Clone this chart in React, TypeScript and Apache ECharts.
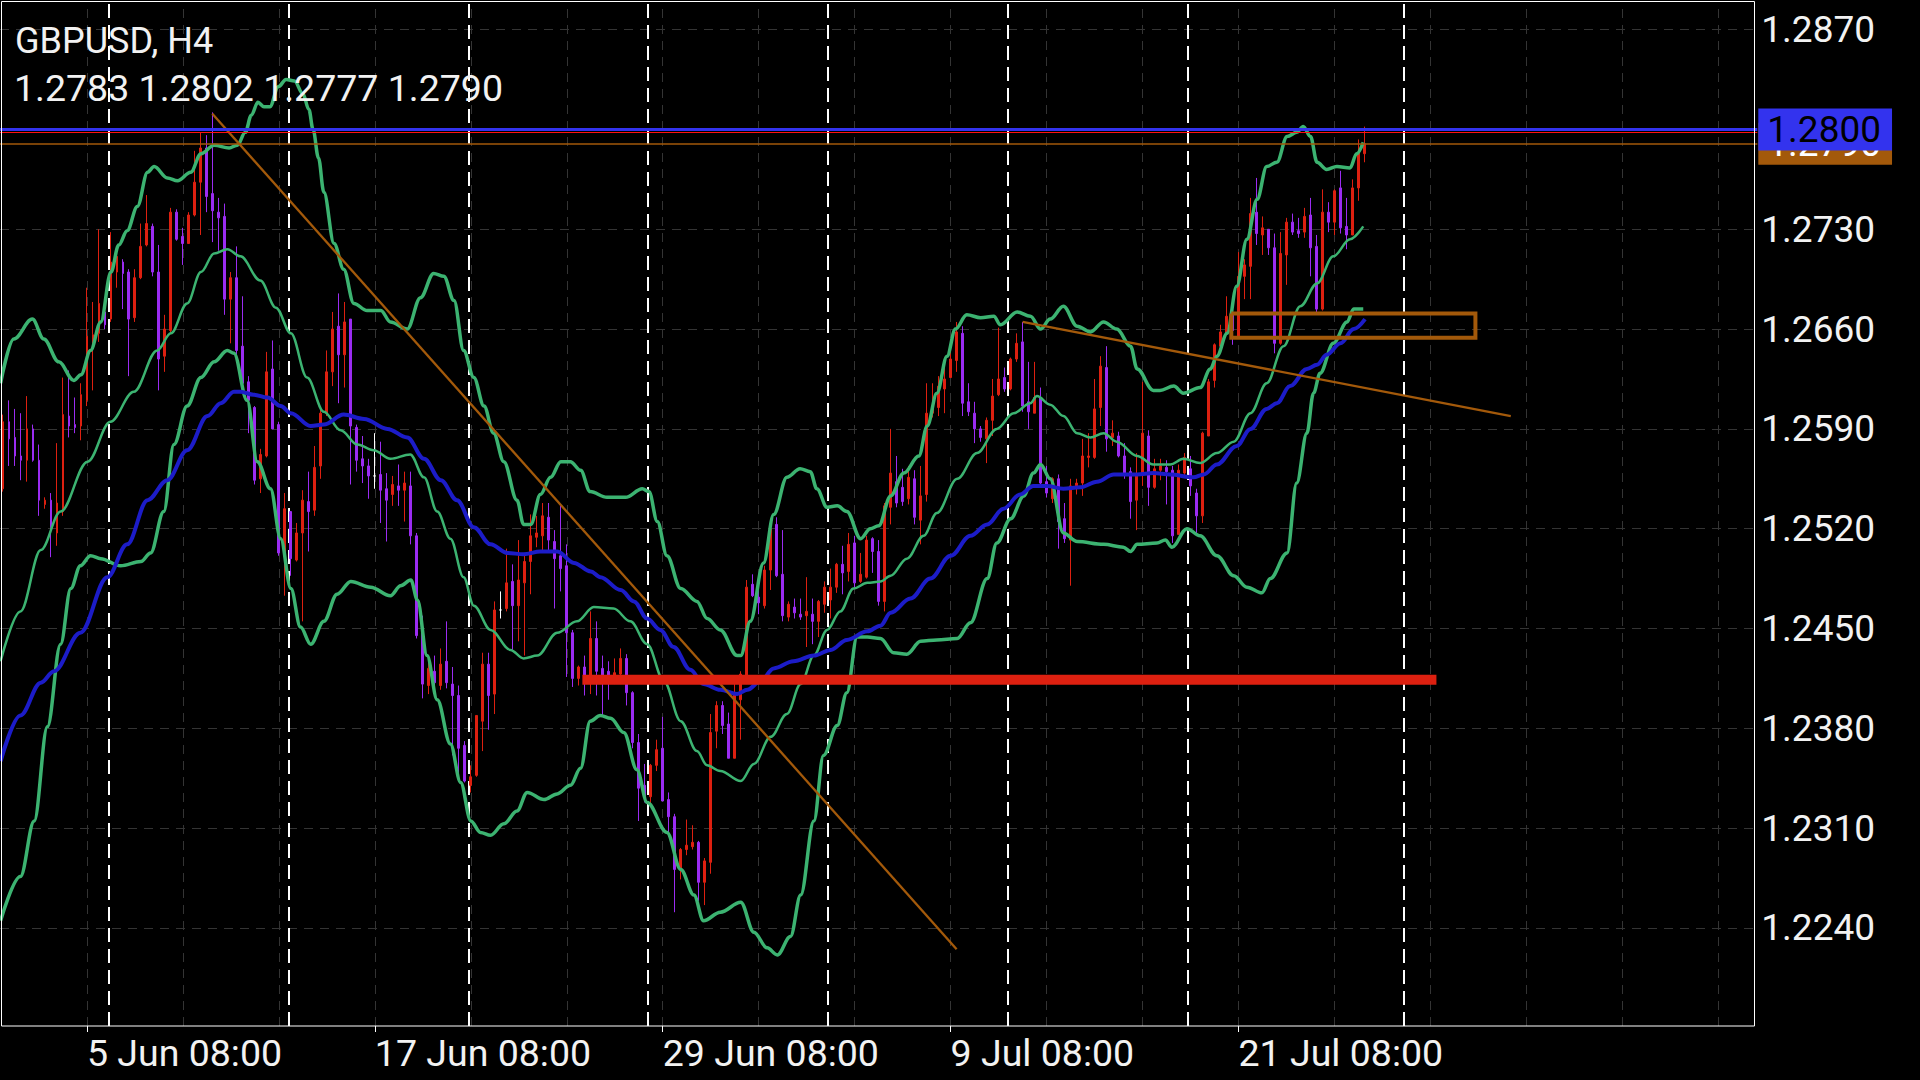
import React, { useEffect, useRef } from 'react';
import * as echarts from 'echarts';

// ---------- axis / label data ----------
const N_SLOTS = 293;
const labelIdx = [14, 62, 110, 158, 206];
const labelText = ['5 Jun 08:00', '17 Jun 08:00', '29 Jun 08:00', '9 Jul 08:00', '21 Jul 08:00'];
const gridIdx = [14, 30, 46, 62, 78, 94, 110, 126, 142, 158, 174, 190, 206, 222, 238, 254, 270, 286];
const weekStarts = [18, 48, 78, 108, 138, 168, 198, 234];
const yTicks = [1.224, 1.231, 1.238, 1.245, 1.252, 1.259, 1.266, 1.273, 1.28, 1.287];
const Y_MIN = 1.21712;
const Y_MAX = 1.28901;

// ---------- candles (price * 10000) ----------
const openP = [
  12548, 12595, 12584, 12571, 12568, 12590, 12568, 12537, 12540, 12517,
  12532, 12599, 12593, 12592, 12610, 12650, 12657, 12672, 12667, 12700,
  12707, 12700, 12668, 12696, 12719, 12732, 12700, 12641, 12659, 12742,
  12725, 12720, 12740, 12763, 12787, 12755, 12742, 12739, 12681, 12696,
  12648, 12623, 12605, 12555, 12571, 12632, 12593, 12501, 12532, 12498,
  12517, 12539, 12533, 12564, 12601, 12630, 12662, 12642, 12667, 12591,
  12569, 12564, 12557, 12558, 12548, 12544, 12550, 12547, 12550, 12515,
  12447, 12410, 12420, 12410, 12427, 12411, 12403, 12368, 12340, 12347,
  12385, 12425, 12404, 12463, 12464, 12483, 12466, 12482, 12497, 12514,
  12515, 12528, 12511, 12501, 12494, 12447, 12415, 12423, 12414, 12443,
  12422, 12420, 12417, 12418, 12429, 12405, 12370, 12340, 12332, 12354,
  12366, 12330, 12318, 12282, 12295, 12297, 12300, 12272, 12286, 12378,
  12396, 12383, 12359, 12400, 12417, 12481, 12472, 12466, 12491, 12523,
  12488, 12458, 12465, 12460, 12459, 12460, 12455, 12467, 12470, 12479,
  12495, 12490, 12510, 12483, 12486, 12513, 12504, 12469, 12535, 12553,
  12549, 12541, 12555, 12526, 12544, 12601, 12605, 12618, 12626, 12638,
  12657, 12609, 12601, 12590, 12583, 12596, 12614, 12626, 12618, 12639,
  12651, 12609, 12601, 12612, 12553, 12541, 12555, 12527, 12512, 12550,
  12552, 12570, 12570, 12605, 12633, 12584, 12585, 12571, 12560, 12540,
  12559, 12585, 12549, 12561, 12563, 12561, 12516, 12559, 12562, 12545,
  12529, 12585, 12624, 12648, 12657, 12671, 12655, 12697, 12704, 12742,
  12726, 12730, 12717, 12650, 12712, 12735, 12729, 12728, 12740, 12718,
  12674, 12742, 12735, 12759, 12732, 12726, 12759, 12783,
];
const highP = [
  12600, 12610, 12604, 12601, 12613, 12593, 12579, 12542, 12545, 12580,
  12626, 12631, 12612, 12622, 12689, 12679, 12730, 12680, 12728, 12712,
  12709, 12702, 12702, 12734, 12754, 12734, 12719, 12670, 12745, 12744,
  12731, 12742, 12785, 12798, 12796, 12812, 12752, 12748, 12700, 12718,
  12683, 12627, 12606, 12576, 12644, 12652, 12595, 12545, 12532, 12524,
  12547, 12560, 12578, 12604, 12645, 12672, 12685, 12679, 12667, 12593,
  12585, 12569, 12587, 12581, 12559, 12557, 12565, 12560, 12560, 12517,
  12459, 12431, 12431, 12436, 12455, 12423, 12410, 12371, 12354, 12389,
  12433, 12433, 12469, 12476, 12506, 12495, 12512, 12501, 12530, 12529,
  12538, 12538, 12519, 12536, 12509, 12449, 12424, 12431, 12462, 12455,
  12431, 12427, 12429, 12436, 12432, 12406, 12376, 12355, 12355, 12372,
  12388, 12335, 12320, 12296, 12316, 12312, 12301, 12289, 12390, 12399,
  12399, 12391, 12413, 12420, 12484, 12488, 12479, 12494, 12525, 12528,
  12519, 12469, 12471, 12471, 12486, 12471, 12470, 12483, 12492, 12496,
  12508, 12517, 12515, 12503, 12515, 12514, 12512, 12538, 12590, 12571,
  12562, 12564, 12561, 12564, 12622, 12622, 12627, 12640, 12648, 12665,
  12662, 12622, 12609, 12592, 12598, 12625, 12661, 12633, 12640, 12657,
  12665, 12637, 12637, 12619, 12564, 12556, 12558, 12538, 12555, 12555,
  12583, 12587, 12625, 12641, 12648, 12596, 12588, 12580, 12563, 12573,
  12623, 12589, 12569, 12569, 12568, 12564, 12565, 12573, 12571, 12548,
  12588, 12625, 12650, 12663, 12683, 12682, 12714, 12709, 12752, 12766,
  12739, 12730, 12727, 12728, 12738, 12741, 12738, 12745, 12752, 12726,
  12758, 12749, 12758, 12771, 12752, 12765, 12793, 12802,
];
const lowP = [
  12546, 12564, 12564, 12554, 12553, 12567, 12529, 12534, 12500, 12508,
  12529, 12584, 12587, 12582, 12606, 12617, 12651, 12660, 12665, 12689,
  12674, 12627, 12665, 12695, 12718, 12697, 12617, 12630, 12657, 12722,
  12705, 12720, 12739, 12726, 12742, 12721, 12715, 12670, 12650, 12639,
  12618, 12587, 12551, 12545, 12570, 12590, 12501, 12473, 12487, 12497,
  12455, 12504, 12529, 12555, 12599, 12620, 12608, 12619, 12551, 12560,
  12552, 12541, 12548, 12524, 12511, 12536, 12536, 12525, 12509, 12443,
  12401, 12404, 12410, 12407, 12408, 12361, 12346, 12342, 12335, 12346,
  12364, 12379, 12390, 12457, 12462, 12435, 12441, 12431, 12474, 12507,
  12503, 12503, 12464, 12476, 12416, 12409, 12410, 12403, 12404, 12403,
  12389, 12400, 12411, 12411, 12396, 12366, 12315, 12328, 12325, 12350,
  12329, 12304, 12251, 12274, 12291, 12295, 12259, 12256, 12278, 12366,
  12376, 12359, 12359, 12372, 12411, 12472, 12460, 12464, 12477, 12486,
  12455, 12455, 12457, 12456, 12437, 12439, 12444, 12461, 12457, 12475,
  12474, 12483, 12479, 12482, 12485, 12489, 12466, 12462, 12523, 12535,
  12536, 12537, 12523, 12509, 12539, 12598, 12599, 12601, 12626, 12630,
  12599, 12599, 12580, 12581, 12566, 12585, 12613, 12616, 12617, 12637,
  12602, 12590, 12601, 12551, 12542, 12538, 12506, 12510, 12480, 12544,
  12543, 12563, 12569, 12592, 12574, 12578, 12570, 12555, 12527, 12519,
  12550, 12536, 12548, 12554, 12537, 12510, 12516, 12557, 12543, 12517,
  12524, 12585, 12619, 12643, 12656, 12649, 12654, 12681, 12681, 12719,
  12712, 12712, 12643, 12649, 12691, 12726, 12724, 12724, 12697, 12671,
  12673, 12728, 12726, 12727, 12716, 12726, 12750, 12777,
];
const closeP = [
  12595, 12583, 12571, 12568, 12590, 12568, 12540, 12540, 12521, 12538,
  12600, 12592, 12591, 12614, 12655, 12656, 12678, 12663, 12707, 12711,
  12699, 12667, 12696, 12718, 12734, 12700, 12639, 12660, 12742, 12723,
  12720, 12740, 12763, 12787, 12753, 12743, 12738, 12681, 12696, 12645,
  12622, 12610, 12554, 12572, 12630, 12590, 12503, 12534, 12499, 12517,
  12540, 12532, 12563, 12601, 12630, 12660, 12642, 12665, 12592, 12568,
  12564, 12557, 12557, 12547, 12540, 12551, 12547, 12552, 12515, 12445,
  12411, 12422, 12412, 12425, 12412, 12403, 12366, 12343, 12346, 12389,
  12425, 12403, 12463, 12463, 12482, 12466, 12484, 12497, 12515, 12517,
  12529, 12512, 12499, 12492, 12447, 12415, 12423, 12414, 12443, 12420,
  12417, 12417, 12419, 12429, 12405, 12370, 12338, 12332, 12354, 12365,
  12329, 12318, 12281, 12295, 12298, 12300, 12272, 12287, 12377, 12396,
  12382, 12359, 12405, 12418, 12479, 12473, 12468, 12491, 12520, 12487,
  12459, 12467, 12461, 12458, 12462, 12455, 12469, 12479, 12479, 12495,
  12489, 12509, 12482, 12488, 12512, 12504, 12469, 12536, 12559, 12538,
  12539, 12556, 12528, 12543, 12601, 12606, 12620, 12625, 12639, 12658,
  12608, 12602, 12590, 12584, 12596, 12613, 12625, 12618, 12639, 12650,
  12606, 12602, 12612, 12552, 12545, 12555, 12525, 12513, 12550, 12552,
  12571, 12571, 12604, 12634, 12583, 12587, 12571, 12559, 12539, 12557,
  12587, 12549, 12562, 12564, 12560, 12515, 12561, 12570, 12550, 12529,
  12587, 12623, 12649, 12658, 12669, 12659, 12697, 12705, 12741, 12727,
  12731, 12717, 12650, 12713, 12735, 12728, 12727, 12739, 12717, 12674,
  12742, 12735, 12757, 12731, 12726, 12759, 12784, 12790,
];

// ---------- indicators: [bar index, price * 10000] ----------
const upperBand = [
  [-0.4, 12622], [1.8, 12653], [4.9, 12667], [6.8, 12653], [9.3, 12637], [11.8, 12624], [13.0, 12628], [14.6, 12645],
  [16.3, 12665], [18.0, 12700], [19.3, 12719], [20.7, 12729], [22.4, 12746], [24.1, 12770], [25.2, 12774], [27.4, 12766],
  [29.1, 12764], [31.3, 12770], [33.0, 12783], [35.2, 12789], [37.7, 12787], [39.1, 12789], [40.4, 12798], [41.4, 12810],
  [42.5, 12819], [43.5, 12816], [44.5, 12816], [45.9, 12830], [47.2, 12835], [48.6, 12834], [50.0, 12825], [51.0, 12814],
  [51.7, 12800], [52.6, 12780], [53.5, 12756], [55.2, 12720], [56.8, 12702], [58.5, 12678], [60.7, 12673], [63.0, 12673],
  [64.6, 12665], [67.4, 12660], [69.6, 12682], [71.8, 12699], [73.5, 12697], [75.2, 12680], [76.8, 12645], [78.5, 12626],
  [80.2, 12606], [81.8, 12587], [83.5, 12567], [85.7, 12540], [86.8, 12523], [88.0, 12523], [89.6, 12544], [91.3, 12556],
  [93.0, 12567], [94.6, 12567], [96.3, 12561], [97.9, 12546], [100.7, 12542], [103.8, 12542], [106.6, 12548], [107.7, 12546],
  [109.1, 12525], [110.7, 12501], [113.0, 12478], [115.7, 12469], [117.4, 12457], [119.6, 12449], [122.4, 12431], [123.0, 12431],
  [124.6, 12455], [126.8, 12496], [128.5, 12530], [130.7, 12556], [132.9, 12562], [134.6, 12560], [135.7, 12548], [137.4, 12535],
  [139.1, 12536], [140.7, 12532], [143.0, 12513], [144.6, 12520], [146.0, 12522], [148.0, 12543], [150.2, 12559], [152.7, 12571],
  [154.1, 12592], [155.7, 12615], [157.4, 12641], [158.8, 12660], [160.7, 12670], [163.0, 12668], [165.2, 12669], [166.3, 12663],
  [169.1, 12672], [171.3, 12669], [173.0, 12660], [174.6, 12667], [176.8, 12676], [179.1, 12662], [181.3, 12658], [183.5, 12665],
  [185.7, 12660], [188.0, 12648], [189.1, 12632], [191.8, 12617], [192.9, 12617], [195.2, 12620], [196.8, 12615], [199.6, 12619],
  [201.3, 12632], [202.4, 12641], [204.1, 12657], [205.7, 12690], [207.4, 12723], [209.1, 12751], [210.7, 12774], [212.4, 12777],
  [214.1, 12795], [215.7, 12798], [216.8, 12802], [218.0, 12795], [219.1, 12777], [220.7, 12772], [222.4, 12774], [224.6, 12773],
  [225.7, 12783], [226.8, 12791],
];
const middleBand = [
  [-0.4, 12427], [2.9, 12462], [6.3, 12505], [9.6, 12532], [14.1, 12567], [17.9, 12595], [21.8, 12616], [25.7, 12645],
  [28.0, 12657], [30.7, 12678], [33.0, 12700], [35.2, 12713], [37.4, 12716], [39.6, 12711], [42.9, 12694], [45.5, 12675],
  [48.0, 12657], [50.7, 12626], [53.5, 12602], [56.3, 12589], [59.1, 12579], [61.8, 12575], [64.6, 12569], [67.9, 12572],
  [70.2, 12556], [72.4, 12532], [74.6, 12513], [76.8, 12486], [78.5, 12466], [81.3, 12449], [84.6, 12435], [86.8, 12429],
  [89.1, 12431], [92.4, 12447], [95.7, 12455], [98.5, 12465], [101.8, 12464], [104.6, 12455], [107.4, 12439], [110.2, 12413],
  [113.0, 12385], [115.7, 12364], [117.4, 12354], [119.6, 12350], [123.0, 12343], [125.2, 12355], [128.0, 12374], [130.7, 12390],
  [133.0, 12411], [135.2, 12431], [137.4, 12449], [139.6, 12462], [141.8, 12478], [144.1, 12482], [146.3, 12483], [148.0, 12487],
  [150.7, 12499], [153.5, 12515], [155.7, 12531], [159.1, 12555], [162.4, 12573], [165.7, 12590], [168.5, 12601], [171.3, 12608],
  [172.4, 12613], [174.6, 12607], [176.8, 12599], [179.1, 12587], [181.3, 12584], [183.5, 12587], [185.7, 12581], [189.1, 12571],
  [191.8, 12565], [194.6, 12565], [196.8, 12569], [199.6, 12566], [202.4, 12573], [205.2, 12581], [208.0, 12601], [210.7, 12622],
  [213.5, 12648], [216.3, 12676], [219.1, 12692], [221.8, 12711], [224.6, 12723], [226.8, 12732],
];
const lowerBand = [
  [-0.4, 12245], [2.9, 12276], [5.2, 12315], [7.4, 12381], [9.6, 12439], [11.3, 12478], [12.9, 12494], [14.6, 12501],
  [16.3, 12499], [19.6, 12494], [23.0, 12497], [24.6, 12503], [26.8, 12532], [28.5, 12579], [30.7, 12606], [33.0, 12626],
  [35.2, 12637], [37.4, 12645], [38.5, 12643], [40.7, 12610], [42.4, 12567], [44.6, 12548], [46.3, 12513], [48.0, 12478],
  [49.6, 12451], [51.3, 12439], [53.5, 12455], [55.7, 12474], [58.0, 12483], [61.3, 12479], [64.6, 12473], [66.3, 12480],
  [68.0, 12484], [69.1, 12470], [70.7, 12431], [72.4, 12400], [74.6, 12369], [76.3, 12342], [78.0, 12315], [79.6, 12307],
  [81.3, 12305], [83.5, 12313], [85.7, 12322], [87.4, 12335], [90.2, 12330], [92.4, 12334], [94.6, 12340], [96.3, 12352],
  [97.9, 12385], [99.6, 12389], [101.3, 12387], [103.5, 12377], [105.7, 12351], [107.4, 12328], [110.7, 12307], [113.0, 12281],
  [115.2, 12263], [116.8, 12245], [119.6, 12251], [123.0, 12258], [125.2, 12237], [127.4, 12226], [129.1, 12221], [131.3, 12234],
  [133.0, 12263], [135.2, 12315], [136.8, 12361], [139.1, 12382], [140.7, 12405], [142.4, 12444], [144.1, 12444], [146.3, 12443],
  [148.5, 12433], [150.7, 12432], [153.0, 12441], [155.7, 12442], [159.1, 12443], [161.3, 12454], [164.1, 12485], [165.7, 12510],
  [168.0, 12527], [170.2, 12543], [171.8, 12559], [173.0, 12565], [174.6, 12555], [176.8, 12517], [179.1, 12511], [183.5, 12509],
  [186.8, 12507], [188.0, 12504], [189.1, 12509], [192.4, 12510], [193.8, 12512], [194.9, 12507], [197.4, 12520], [199.6, 12515],
  [202.4, 12501], [205.2, 12487], [207.4, 12479], [209.9, 12475], [211.3, 12485], [214.1, 12503], [215.7, 12552], [217.4, 12587],
  [218.5, 12615], [219.6, 12629], [221.8, 12650], [224.1, 12665], [225.2, 12674], [226.8, 12674],
];
const maLine = [
  [-0.4, 12357], [2.9, 12389], [6.3, 12412], [8.5, 12420], [12.9, 12447], [17.4, 12486], [20.7, 12509], [24.1, 12540],
  [27.4, 12554], [30.7, 12575], [34.1, 12599], [36.3, 12608], [38.5, 12616], [39.6, 12616], [41.8, 12614], [44.1, 12612],
  [46.3, 12606], [48.0, 12601], [51.3, 12592], [53.5, 12593], [56.8, 12600], [60.2, 12597], [64.1, 12590], [67.4, 12584],
  [70.2, 12569], [73.0, 12554], [75.7, 12540], [78.5, 12521], [81.3, 12509], [84.1, 12503], [86.8, 12502], [89.6, 12504],
  [92.4, 12504], [95.2, 12496], [98.0, 12490], [99.6, 12486], [103.0, 12477], [105.2, 12469], [107.4, 12457], [109.6, 12449],
  [111.8, 12437], [114.6, 12421], [116.8, 12411], [119.6, 12407], [122.4, 12404], [124.1, 12407], [126.3, 12413], [128.5, 12422],
  [131.8, 12427], [135.2, 12431], [138.0, 12435], [140.7, 12442], [144.1, 12448], [146.3, 12452], [148.0, 12461], [151.3, 12471],
  [154.6, 12485], [158.0, 12501], [161.3, 12515], [164.1, 12523], [166.8, 12534], [169.6, 12544], [171.8, 12550], [174.1, 12550],
  [176.8, 12548], [179.6, 12549], [182.4, 12553], [185.2, 12558], [189.1, 12558], [191.8, 12559], [194.6, 12558], [198.5, 12556],
  [200.2, 12558], [202.4, 12565], [205.7, 12578], [208.0, 12590], [210.7, 12604], [212.4, 12608], [214.6, 12620], [217.4, 12632],
  [219.1, 12635], [220.7, 12642], [223.0, 12650], [225.2, 12660], [227.1, 12667],
];

// ---------- drawn objects ----------
const supportLine = [[96.6, 12414], [239.0, 12414]];
const trendLine1 = [[34.9, 12811], [159.0, 12225]];
const trendLine2 = [[170.0, 12665], [251.4, 12599]];
const zoneBox = [[204.8, 12671], [245.5, 12671], [245.5, 12654], [204.8, 12654], [204.8, 12671]];
const levelBlue = 1.28;
const levelAsk = 1.27981;
const levelBid = 1.279;
const titleText = 'GBPUSD, H4';
const ohlcText = '1.2783 1.2802 1.2777 1.2790';

const BULL = '#dd2010';
const BEAR = '#9b2cf2';
const GREEN = '#3cb371';
const MA_BLUE = '#1c1cc8';
const BROWN = '#a3590a';
const LEVEL_BLUE = '#3333ee';
const FONT = 'Roboto';

const px = (v: number) => v / 10000;
const toPts = (arr: number[][]) => arr.map(([i, v]) => [i, px(v)]);

export default function App() {
  const ref = useRef<HTMLDivElement>(null);

  useEffect(() => {
    document.body.style.margin = '0';
    document.body.style.background = '#000';
    const chart = echarts.init(ref.current!, null, { renderer: 'svg' });

    const categories = Array.from({ length: N_SLOTS }, (_, i) => 'b' + i);
    const showLabel = (i: number) => labelIdx.indexOf(i) >= 0;

    const candleData = openP.map((o, i) => {
      const value = [px(o), px(closeP[i]), px(lowP[i]), px(highP[i])];
      if (o === closeP[i]) {
        return { value, itemStyle: { color: '#ffffff', color0: '#ffffff', borderColor: '#ffffff', borderColor0: '#ffffff' } };
      }
      return value;
    });

    const gridStyle = { color: '#343434', type: [9, 7] as any, width: 1 };
    const sepStyle = { color: '#ffffff', type: [14, 7] as any, width: 2 };
    const priceLabel = (bg: string, fg: string, text: string) => ({
      show: true, position: 'end', distance: 1, formatter: text,
      backgroundColor: bg, color: fg, fontSize: 37, fontFamily: FONT,
      lineHeight: 36, padding: [3, 11, 3, 9],
    });

    const option: any = {
      animation: false,
      backgroundColor: '#000000',
      grid: { left: -0.7, right: 162.7, top: 1, bottom: 54, containLabel: false },
      xAxis: [
        {
          type: 'category',
          data: categories,
          boundaryGap: true,
          axisLine: { show: false },
          axisTick: {
            show: true,
            alignWithLabel: true,
            interval: (i: number) => showLabel(i),
            length: 6,
            lineStyle: { color: '#ffffff', width: 1 },
          },
          axisLabel: {
            show: true,
            interval: (i: number) => showLabel(i),
            formatter: (_v: string, i: number) => labelText[labelIdx.indexOf(i)] || '',
            align: 'left',
            padding: [0, 0, 0, 0],
            margin: 8,
            color: '#f2f2f2',
            fontSize: 37.5,
            fontFamily: FONT,
          },
          splitLine: { show: false },
        },
        {
          type: 'value',
          min: -0.5,
          max: N_SLOTS - 0.5,
          show: false,
          splitLine: { show: false },
        },
      ],
      yAxis: {
        type: 'value',
        position: 'right',
        min: Y_MIN,
        max: Y_MAX,
        scale: true,
        axisLine: { show: false },
        splitLine: { show: false },
        axisTick: { show: true, customValues: yTicks, length: 5, lineStyle: { color: '#ffffff' } },
        axisLabel: {
          customValues: yTicks,
          formatter: (v: number) => v.toFixed(4),
          color: '#f2f2f2',
          fontSize: 37,
          fontFamily: FONT,
          margin: 4,
        },
      },
      graphic: [
        {
          type: 'rect',
          z: 100,
          silent: true,
          shape: { x: 1.5, y: 1.5, width: 1753, height: 1024.5 },
          style: { fill: 'none', stroke: '#ffffff', lineWidth: 1 },
        },
        {
          type: 'text',
          z: 100,
          x: 15,
          y: 41,
          style: { text: titleText, fill: '#f2f2f2', fontSize: 36, fontFamily: FONT, verticalAlign: 'middle' },
        },
        {
          type: 'text',
          z: 100,
          x: 14,
          y: 88,
          style: { text: ohlcText, fill: '#f2f2f2', fontSize: 37.5, fontFamily: FONT, verticalAlign: 'middle' },
        },
      ],
      series: [
        {
          name: 'grid',
          type: 'line',
          xAxisIndex: 1,
          data: [],
          markLine: {
            silent: true,
            z: 1,
            precision: 6,
            symbol: ['none', 'none'],
            label: { show: false },
            emphasis: { disabled: true },
            data: [
              ...yTicks.map((v) => ({ yAxis: v, lineStyle: gridStyle })),
              ...gridIdx.map((i) => ({ xAxis: i, lineStyle: gridStyle })),
              ...weekStarts.map((i) => ({ xAxis: i - 0.42, lineStyle: sepStyle })),
            ],
          },
        },
        {
          name: 'candles',
          type: 'candlestick',
          xAxisIndex: 0,
          z: 3,
          barWidth: 2.4,
          itemStyle: { color: BULL, color0: BEAR, borderColor: BULL, borderColor0: BEAR, borderWidth: 1 },
          data: candleData,
        },
        {
          name: 'upper', type: 'line', xAxisIndex: 1, z: 4, showSymbol: false, smooth: 0.35, smoothMonotone: 'x',
          lineStyle: { color: GREEN, width: 3.5 }, data: toPts(upperBand),
        },
        {
          name: 'middle', type: 'line', xAxisIndex: 1, z: 4, showSymbol: false, smooth: 0.35, smoothMonotone: 'x',
          lineStyle: { color: GREEN, width: 2.5 }, data: toPts(middleBand),
        },
        {
          name: 'lower', type: 'line', xAxisIndex: 1, z: 4, showSymbol: false, smooth: 0.35, smoothMonotone: 'x',
          lineStyle: { color: GREEN, width: 3.5 }, data: toPts(lowerBand),
        },
        {
          name: 'ma', type: 'line', xAxisIndex: 1, z: 4, showSymbol: false, smooth: 0.35, smoothMonotone: 'x',
          lineStyle: { color: MA_BLUE, width: 4 }, data: toPts(maLine),
        },
        {
          name: 'trend1', type: 'line', xAxisIndex: 1, z: 5, showSymbol: false,
          lineStyle: { color: BROWN, width: 2.3 }, data: toPts(trendLine1),
        },
        {
          name: 'trend2', type: 'line', xAxisIndex: 1, z: 5, showSymbol: false,
          lineStyle: { color: BROWN, width: 2.3 }, data: toPts(trendLine2),
        },
        {
          name: 'zone', type: 'line', xAxisIndex: 1, z: 5, showSymbol: false,
          lineStyle: { color: BROWN, width: 4, join: 'miter' }, data: toPts(zoneBox),
        },
        {
          name: 'support', type: 'line', xAxisIndex: 1, z: 6, showSymbol: false,
          lineStyle: { color: BULL, width: 10, cap: 'butt' }, data: toPts(supportLine),
        },
        {
          name: 'bid', type: 'line', xAxisIndex: 1, data: [],
          markLine: {
            silent: true, z: 8, precision: 6, symbol: ['none', 'none'], emphasis: { disabled: true },
            data: [
              {
                yAxis: levelBid,
                lineStyle: { color: BROWN, width: 1.5, type: 'solid' },
                label: priceLabel(BROWN, '#ffffff', levelBid.toFixed(4)),
              },
            ],
          },
        },
        {
          name: 'levels', type: 'line', xAxisIndex: 1, data: [],
          markLine: {
            silent: true, z: 9, precision: 6, symbol: ['none', 'none'], emphasis: { disabled: true },
            data: [
              {
                yAxis: levelAsk,
                lineStyle: { color: '#ff1010', width: 1, type: 'solid' },
                label: { show: false },
              },
              {
                yAxis: levelBlue,
                lineStyle: { color: LEVEL_BLUE, width: 3, type: 'solid' },
                label: priceLabel(LEVEL_BLUE, '#000000', levelBlue.toFixed(4)),
              },
            ],
          },
        },
      ],
    };

    chart.setOption(option);
    return () => chart.dispose();
  }, []);

  return <div ref={ref} style={{ position: 'fixed', left: 0, top: 0, width: 1920, height: 1080 }} />;
}
